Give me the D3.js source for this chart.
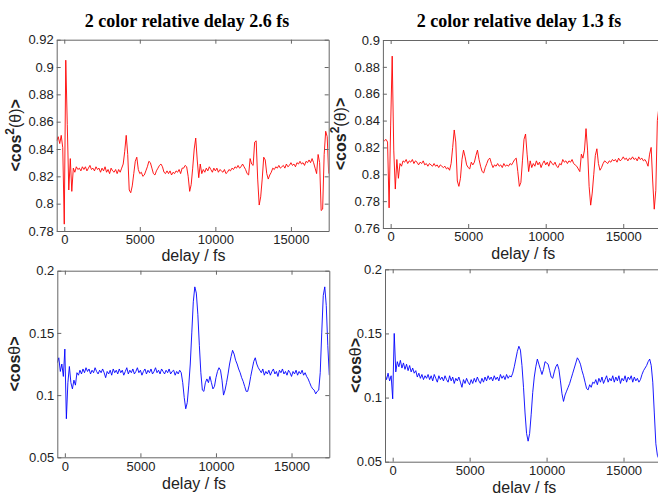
<!DOCTYPE html>
<html>
<head>
<meta charset="utf-8">
<script src="https://cdn.jsdelivr.net/npm/d3@7"></script>
<style>
  body { margin: 0; background: #fff; }
  svg { display: block; }
</style>
</head>
<body>
<svg width="658" height="493"></svg>
<script>
// sampling grid of the delay scans (fs)
const delays = d3.range(-500, 17501, 100);

// <cos^2(theta)>, 2 color relative delay 2.6 fs
const cos2Delay26 = [
  0.846, 0.849, 0.844, 0.850, 0.841, 0.785, 0.905, 0.858, 0.810, 0.833,
  0.809, 0.826, 0.823, 0.827, 0.825, 0.826, 0.824, 0.827, 0.825, 0.827,
  0.824, 0.826, 0.828, 0.825, 0.826, 0.824, 0.827, 0.825, 0.826, 0.823,
  0.826, 0.824, 0.827, 0.823, 0.825, 0.822, 0.826, 0.824, 0.823, 0.825,
  0.822, 0.825, 0.823, 0.826, 0.829, 0.838, 0.850, 0.836, 0.810, 0.808,
  0.813, 0.822, 0.831, 0.834, 0.825, 0.822, 0.823, 0.820, 0.821, 0.824,
  0.827, 0.831, 0.830, 0.826, 0.822, 0.821, 0.824, 0.826, 0.828, 0.829,
  0.827, 0.823, 0.822, 0.824, 0.822, 0.824, 0.821, 0.823, 0.822, 0.824,
  0.823, 0.825, 0.822, 0.826, 0.826, 0.828, 0.827, 0.820, 0.809, 0.814,
  0.826, 0.840, 0.848, 0.832, 0.819, 0.829, 0.822, 0.825, 0.823, 0.826,
  0.824, 0.827, 0.825, 0.823, 0.826, 0.824, 0.826, 0.823, 0.825, 0.824,
  0.823, 0.825, 0.822, 0.823, 0.825, 0.824, 0.826, 0.825, 0.827, 0.826,
  0.828, 0.826, 0.827, 0.829, 0.827, 0.825, 0.822, 0.821, 0.833, 0.829,
  0.828, 0.845, 0.846, 0.818, 0.799, 0.805, 0.818, 0.834, 0.832, 0.822,
  0.818, 0.821, 0.823, 0.826, 0.825, 0.827, 0.826, 0.828, 0.826, 0.827,
  0.828, 0.826, 0.829, 0.827, 0.828, 0.830, 0.828, 0.829, 0.827, 0.830,
  0.829, 0.831, 0.829, 0.830, 0.828, 0.831, 0.830, 0.832, 0.830, 0.833,
  0.830, 0.826, 0.822, 0.836, 0.830, 0.795, 0.796, 0.836, 0.853, 0.849,
  0.822
];

// <cos^2(theta)>, 2 color relative delay 1.3 fs
const cos2Delay13 = [
  0.826, 0.825, 0.826, 0.824, 0.775, 0.836, 0.888, 0.818, 0.789, 0.811,
  0.797, 0.808, 0.806, 0.810, 0.809, 0.811, 0.808, 0.810, 0.809, 0.811,
  0.808, 0.810, 0.809, 0.807, 0.809, 0.808, 0.810, 0.807, 0.808, 0.806,
  0.808, 0.807, 0.806, 0.808, 0.806, 0.807, 0.805, 0.807, 0.806, 0.805,
  0.806, 0.804, 0.805, 0.803, 0.808, 0.820, 0.833, 0.824, 0.795, 0.791,
  0.797, 0.811, 0.818, 0.813, 0.807, 0.805, 0.804, 0.809, 0.807, 0.809,
  0.814, 0.818, 0.811, 0.806, 0.802, 0.801, 0.805, 0.808, 0.811, 0.812,
  0.808, 0.805, 0.807, 0.806, 0.808, 0.806, 0.807, 0.805, 0.808, 0.806,
  0.807, 0.806, 0.808, 0.807, 0.809, 0.811, 0.812, 0.802, 0.791, 0.794,
  0.810, 0.826, 0.830, 0.815, 0.802, 0.810, 0.805, 0.808, 0.806, 0.810,
  0.807, 0.809, 0.805, 0.808, 0.810, 0.807, 0.809, 0.806, 0.810, 0.808,
  0.807, 0.809, 0.806, 0.805, 0.808, 0.807, 0.811, 0.809, 0.810, 0.808,
  0.810, 0.809, 0.811, 0.808, 0.807, 0.806, 0.804, 0.802, 0.815, 0.812,
  0.818, 0.834, 0.818, 0.791, 0.777, 0.786, 0.800, 0.814, 0.819, 0.808,
  0.803, 0.805, 0.808, 0.810, 0.809, 0.808, 0.810, 0.809, 0.811, 0.810,
  0.811, 0.809, 0.812, 0.810, 0.811, 0.813, 0.811, 0.812, 0.810, 0.812,
  0.811, 0.813, 0.811, 0.812, 0.810, 0.813, 0.811, 0.812, 0.810, 0.811,
  0.809, 0.806, 0.815, 0.820, 0.795, 0.774, 0.788, 0.840, 0.850, 0.838,
  0.825
];

// <cos(theta)>, 2 color relative delay 2.6 fs
const cosDelay26 = [
  0.126, 0.130, 0.119, 0.125, 0.115, 0.137, 0.081, 0.110, 0.123, 0.110,
  0.105, 0.112, 0.108, 0.118, 0.116, 0.120, 0.117, 0.121, 0.118, 0.122,
  0.119, 0.121, 0.117, 0.120, 0.118, 0.122, 0.119, 0.117, 0.120, 0.118,
  0.121, 0.118, 0.114, 0.119, 0.117, 0.120, 0.116, 0.121, 0.118, 0.120,
  0.117, 0.121, 0.118, 0.120, 0.116, 0.119, 0.122, 0.117, 0.120, 0.118,
  0.121, 0.117, 0.119, 0.122, 0.118, 0.120, 0.116, 0.119, 0.121, 0.117,
  0.120, 0.118, 0.121, 0.117, 0.119, 0.122, 0.118, 0.120, 0.117, 0.121,
  0.119, 0.117, 0.120, 0.118, 0.121, 0.117, 0.119, 0.120, 0.116, 0.119,
  0.117, 0.120, 0.118, 0.110, 0.098, 0.089, 0.094, 0.108, 0.125, 0.150,
  0.175, 0.187, 0.182, 0.165, 0.140, 0.118, 0.104, 0.103, 0.110, 0.113,
  0.110, 0.115, 0.110, 0.105, 0.107, 0.114, 0.119, 0.122, 0.120, 0.112,
  0.100, 0.104, 0.110, 0.117, 0.125, 0.131, 0.136, 0.133, 0.128, 0.125,
  0.121, 0.118, 0.114, 0.111, 0.107, 0.103, 0.103, 0.108, 0.115, 0.121,
  0.127, 0.130, 0.125, 0.122, 0.120, 0.118, 0.121, 0.116, 0.119, 0.117,
  0.120, 0.116, 0.119, 0.121, 0.117, 0.119, 0.115, 0.120, 0.118, 0.121,
  0.117, 0.119, 0.116, 0.120, 0.118, 0.115, 0.119, 0.117, 0.120, 0.116,
  0.119, 0.117, 0.120, 0.116, 0.118, 0.115, 0.113, 0.110, 0.107, 0.105,
  0.104, 0.101, 0.103, 0.104, 0.118, 0.150, 0.180, 0.187, 0.172, 0.140,
  0.116
];

// <cos(theta)>, 2 color relative delay 1.3 fs
const cosDelay13 = [
  0.118, 0.114, 0.119, 0.113, 0.117, 0.099, 0.150, 0.120, 0.128, 0.124,
  0.129, 0.123, 0.127, 0.122, 0.126, 0.121, 0.125, 0.120, 0.123, 0.119,
  0.121, 0.116, 0.119, 0.115, 0.118, 0.114, 0.117, 0.115, 0.118, 0.114,
  0.117, 0.113, 0.118, 0.115, 0.112, 0.117, 0.114, 0.116, 0.113, 0.117,
  0.114, 0.112, 0.117, 0.113, 0.116, 0.111, 0.115, 0.113, 0.116, 0.112,
  0.108, 0.114, 0.111, 0.115, 0.112, 0.110, 0.114, 0.111, 0.115, 0.112,
  0.116, 0.113, 0.111, 0.115, 0.112, 0.116, 0.113, 0.117, 0.114, 0.116,
  0.113, 0.117, 0.114, 0.116, 0.113, 0.118, 0.115, 0.117, 0.114, 0.118,
  0.115, 0.117, 0.116, 0.119, 0.124, 0.130, 0.136, 0.140, 0.137, 0.125,
  0.108, 0.088, 0.072, 0.066, 0.072, 0.087, 0.104, 0.116, 0.124, 0.130,
  0.126, 0.122, 0.118, 0.122, 0.128, 0.127, 0.126, 0.121, 0.116, 0.115,
  0.120, 0.124, 0.126, 0.122, 0.113, 0.103, 0.097, 0.102, 0.105, 0.108,
  0.111, 0.115, 0.119, 0.123, 0.127, 0.131, 0.129, 0.126, 0.121, 0.117,
  0.112, 0.107, 0.106, 0.110, 0.108, 0.112, 0.111, 0.114, 0.110, 0.115,
  0.112, 0.116, 0.111, 0.114, 0.117, 0.112, 0.115, 0.113, 0.117, 0.112,
  0.116, 0.113, 0.117, 0.111, 0.115, 0.113, 0.117, 0.112, 0.116, 0.114,
  0.117, 0.112, 0.116, 0.113, 0.115, 0.112, 0.114, 0.118, 0.121, 0.123,
  0.125, 0.128, 0.130, 0.125, 0.112, 0.088, 0.064, 0.055, 0.052, 0.050,
  0.050
];

const titles = ["2 color relative delay 2.6 fs", "2 color relative delay 1.3 fs"];
const xTicks = [0, 5000, 10000, 15000];
const cos2TicksA = [0.78, 0.8, 0.82, 0.84, 0.86, 0.88, 0.9, 0.92];
const cos2TicksB = [0.76, 0.78, 0.8, 0.82, 0.84, 0.86, 0.88, 0.9];
const cosTicks = [0.05, 0.1, 0.15, 0.2];
const xLabel = "delay / fs";

const svg = d3.select("svg");
svg.append("rect").attr("width", 658).attr("height", 493).attr("fill", "#fff");

// panel boxes in pixels (left, right, top, bottom)
const panels = [
  { values: cos2Delay26, yTicks: cos2TicksA, color: "#ff0000", kind: "cos2",
    l: 56.7, r: 328.7, t: 39.7, b: 231, title: titles[0], titleX: 187, yLabX: 21, xLabY: 261 },
  { values: cos2Delay13, yTicks: cos2TicksB, color: "#ff0000", kind: "cos2",
    l: 382.9, r: 662, t: 40, b: 228, title: titles[1], titleX: 519, yLabX: 346, xLabY: 259 },
  { values: cosDelay26, yTicks: cosTicks, color: "#0000ff", kind: "cos",
    l: 57.3, r: 329.3, t: 270.7, b: 457.3, yLabX: 20, xLabY: 488.5 },
  { values: cosDelay13, yTicks: cosTicks, color: "#0000ff", kind: "cos",
    l: 385, r: 662, t: 269.3, b: 461.7, yLabX: 361, xLabY: 492.5 }
];

const fmtY = d => String(+d.toFixed(2));
const axisColor = "#666";
const textColor = "#222";

panels.forEach((p, i) => {
  const x = d3.scaleLinear().domain([-500, 17500]).range([p.l, p.r]);
  const yExt = d3.extent(p.yTicks);
  const y = d3.scaleLinear().domain(yExt).range([p.b, p.t]);
  const g = svg.append("g");

  g.append("clipPath").attr("id", "clip" + i)
    .append("rect").attr("x", p.l).attr("y", p.t)
    .attr("width", p.r - p.l).attr("height", p.b - p.t);

  const line = d3.line()
    .x((d, j) => x(delays[j]))
    .y(d => y(d));

  g.append("path")
    .datum(p.values)
    .attr("clip-path", `url(#clip${i})`)
    .attr("fill", "none")
    .attr("stroke", p.color)
    .attr("stroke-width", 0.9)
    .attr("stroke-linejoin", "round")
    .attr("d", line);

  // MATLAB style box with inward ticks
  const bottom = g.append("g").attr("transform", `translate(0,${p.b})`)
    .call(d3.axisBottom(x).tickValues(xTicks).tickFormat(d3.format("d"))
      .tickSizeInner(-4).tickSizeOuter(0).tickPadding(4));
  const top = g.append("g").attr("transform", `translate(0,${p.t})`)
    .call(d3.axisTop(x).tickValues(xTicks).tickFormat("")
      .tickSizeInner(-4).tickSizeOuter(0));
  const left = g.append("g").attr("transform", `translate(${p.l},0)`)
    .call(d3.axisLeft(y).tickValues(p.yTicks).tickFormat(fmtY)
      .tickSizeInner(-4).tickSizeOuter(0).tickPadding(3));
  const right = g.append("g").attr("transform", `translate(${p.r},0)`)
    .call(d3.axisRight(y).tickValues(p.yTicks).tickFormat("")
      .tickSizeInner(-4).tickSizeOuter(0));

  [bottom, top, left, right].forEach(a => {
    a.select(".domain").attr("stroke", axisColor);
    a.selectAll(".tick line").attr("stroke", axisColor);
    a.selectAll("text")
      .attr("fill", textColor)
      .style("font-family", "'Liberation Sans', Arial, sans-serif")
      .style("font-size", "13px");
  });

  // x label
  g.append("text")
    .attr("x", (x(0) + x(17500)) / 2 - 3)
    .attr("y", p.xLabY)
    .attr("text-anchor", "middle")
    .attr("fill", textColor)
    .style("font-family", "'Liberation Sans', Arial, sans-serif")
    .style("font-size", "16px")
    .text(xLabel);

  // y label
  const cy = (p.t + p.b) / 2;
  const yl = g.append("text")
    .attr("transform", `translate(${p.yLabX},${cy}) rotate(-90)`)
    .attr("text-anchor", "middle")
    .attr("fill", textColor)
    .style("font-family", "'Liberation Sans', Arial, sans-serif")
    .style("font-weight", "bold")
    .style("font-size", "16px");
  if (p.kind === "cos2") {
    yl.append("tspan").text("<cos");
    yl.append("tspan").attr("dy", -7).style("font-size", "12px").text("2");
    yl.append("tspan").attr("dy", 7).style("font-weight", "normal").text("(θ)");
    yl.append("tspan").text(">");
  } else {
    yl.append("tspan").text("<cos");
    yl.append("tspan").style("font-weight", "normal").text("θ");
    yl.append("tspan").text(">");
  }

  // title
  if (p.title) {
    g.append("text")
      .attr("x", p.titleX)
      .attr("y", 27)
      .attr("text-anchor", "middle")
      .attr("fill", "#000")
      .style("font-family", "'Liberation Serif', 'Times New Roman', serif")
      .style("font-weight", "bold")
      .style("font-size", "18px")
      .text(p.title);
  }
});
</script>
</body>
</html>
